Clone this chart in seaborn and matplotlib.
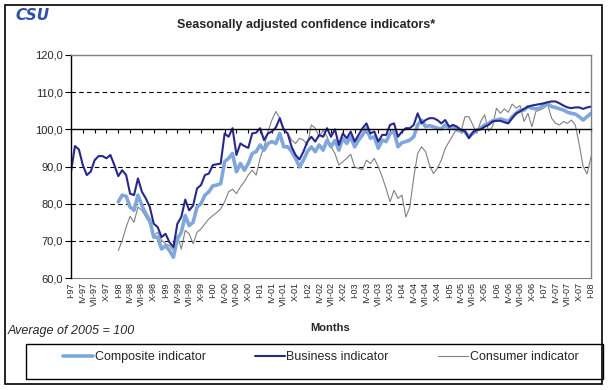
import pandas as pd
import numpy as np
import matplotlib
matplotlib.use("Agg")
import matplotlib.pyplot as plt
from matplotlib.patches import Rectangle
import seaborn as sns

# monthly values, I-97 .. I-08 (133 months)
business = [
    88.6, 95.5, 94.6, 90.4, 87.7, 88.6, 91.7, 92.8, 92.8, 92.2, 93.1, 90.4,
    87.4, 89.0, 87.7, 82.7, 82.3, 86.8, 83.2, 81.4, 79.1, 74.6, 73.7, 71.0,
    71.9, 69.6, 68.3, 74.6, 76.4, 81.1, 78.2, 79.5, 84.1, 85.0, 87.7, 88.1,
    90.4, 90.6, 90.8, 98.9, 98.0, 100.3, 93.1, 96.2, 95.5, 95.0, 98.9, 99.1,
    100.3, 97.1, 98.9, 99.4, 100.5, 103.0, 99.8, 98.9, 95.3, 93.1, 91.9, 94.0,
    96.7, 98.0, 96.7, 98.5, 98.0, 100.3, 98.0, 100.0, 95.8, 98.9, 97.6, 99.4,
    96.7, 98.5, 100.3, 101.6, 98.9, 99.4, 96.7, 98.5, 98.5, 101.2, 101.6, 98.0,
    99.4, 100.3, 100.3, 101.2, 104.3, 101.6, 102.5, 103.0, 103.0, 102.5, 101.6, 102.5,
    100.7, 101.2, 100.7, 99.8, 99.5, 97.6, 99.2, 99.8, 100.0, 100.7, 101.2, 102.1,
    102.3, 102.3, 101.9, 101.6, 103.0, 104.3, 104.8, 105.5, 106.1, 106.4, 106.6, 106.8,
    107.0, 107.3, 107.5, 107.5, 107.0, 106.4, 105.9, 105.7, 105.9, 105.9, 105.5, 105.9,
    106.1,
]

composite = [np.nan] * 12 + [
    80.5, 82.3, 82.0, 79.1, 78.2, 82.3, 79.5, 77.3, 75.5, 71.0, 71.0, 67.8,
    68.7, 67.4, 65.6, 70.5, 72.3, 76.8, 74.1, 75.0, 79.1, 80.0, 82.3, 83.2,
    84.8, 85.0, 85.4, 91.3, 92.2, 93.5, 88.6, 90.8, 89.0, 90.8, 93.5, 94.0,
    95.8, 94.4, 96.2, 96.7, 96.2, 98.9, 95.3, 95.3, 94.0, 92.2, 89.9, 91.7,
    94.0, 95.3, 94.0, 95.8, 94.4, 97.1, 95.3, 97.0, 94.4, 97.6, 96.2, 98.0,
    95.3, 97.1, 98.5, 100.3, 97.6, 98.0, 94.9, 97.1, 96.7, 98.9, 99.4, 95.3,
    96.4, 96.7, 97.1, 98.0, 101.2, 102.5, 100.7, 101.0, 100.7, 100.3, 100.1, 101.2,
    100.3, 100.7, 99.8, 99.5, 99.4, 98.0, 98.9, 99.8, 100.3, 101.2, 101.6, 102.3,
    102.5, 102.8, 102.5, 102.1, 103.4, 104.3, 105.2, 105.2, 106.1, 105.7, 105.5, 105.7,
    106.6, 107.0, 106.1, 105.9, 105.5, 105.2, 104.6, 104.3, 104.1, 103.4, 102.5, 103.4,
    104.3,
]

consumer = [np.nan] * 12 + [
    67.4, 70.1, 73.7, 76.6, 75.0, 79.1, 78.2, 76.4, 74.6, 71.4, 72.3, 70.1,
    69.2, 68.7, 67.4, 71.4, 67.8, 72.8, 71.9, 69.2, 72.3, 73.2, 74.6, 75.9,
    76.8, 77.6, 78.6, 80.5, 83.2, 83.9, 82.7, 84.5, 85.9, 87.7, 89.0, 87.7,
    92.2, 95.3, 99.4, 102.5, 104.8, 103.0, 100.3, 98.9, 97.1, 96.2, 97.6, 97.1,
    95.8, 101.2, 100.3, 98.0, 99.8, 98.0, 95.3, 93.5, 90.4, 91.3, 92.2, 93.3,
    89.9, 89.5, 89.2, 91.7, 90.8, 92.2, 89.9, 87.2, 84.0, 80.5, 83.6, 81.4,
    82.3, 76.4, 79.1, 87.0, 93.5, 95.3, 94.0, 90.4, 88.1, 89.5, 91.7, 94.9,
    96.7, 98.5, 100.3, 99.4, 103.4, 103.4, 101.2, 98.9, 102.1, 103.9, 99.5, 100.7,
    105.7, 104.3, 105.5, 104.6, 106.8, 105.7, 106.4, 102.1, 104.3, 100.7, 104.8, 105.2,
    105.7, 106.6, 103.0, 101.6, 101.2, 102.1, 101.6, 102.5, 101.2, 96.0, 90.0, 88.0,
    92.6,
]

roman = ["I", "IV", "VII", "X"]
years = list(range(1997, 2009))
tick_labels = [f"{r}-{y % 100:02d}" for y in years for r in roman][:45]
y_ticks = [60, 70, 80, 90, 100, 110, 120]

months = np.arange(len(business))
df = pd.DataFrame({"month": months, "Composite indicator": composite,
                   "Business indicator": business, "Consumer indicator": consumer})

sns.set_style("white")
plt.rcParams["font.family"] = ["Liberation Sans", "DejaVu Sans"]

fig = plt.figure(figsize=(6.09, 3.90), dpi=100)
ax = fig.add_axes([71 / 609, 1 - 278 / 390, 520 / 609, 223 / 390])

sns.lineplot(data=df, x="month", y="Consumer indicator", ax=ax, color="#808080",
             linewidth=0.8, label="Consumer indicator", legend=False)
sns.lineplot(data=df, x="month", y="Composite indicator", ax=ax, color="#7fa7dc",
             linewidth=2.6, label="Composite indicator", legend=False)
sns.lineplot(data=df, x="month", y="Business indicator", ax=ax, color="#28288c",
             linewidth=1.5, label="Business indicator", legend=False)

ax.set_xlim(0, len(business) - 1)
ax.set_ylim(60, 120)
ax.set_xlabel("")
ax.set_ylabel("")

# y axis
ax.set_yticks(y_ticks)
ax.set_yticklabels([f"{v:.1f}".replace(".", ",") for v in y_ticks], fontsize=8)
ax.tick_params(axis="y", direction="out", length=4, width=0.8, color="black", pad=2, left=True)
ax.yaxis.grid(True, linestyle=(0, (4, 3)), color="black", linewidth=0.8)
for i, gl in enumerate(ax.get_ygridlines()):
    if y_ticks[i] in (60, 100, 120):
        gl.set_visible(False)

# category axis crosses at 100
tick_pos = np.arange(0, len(business), 3)
ax.spines["bottom"].set_position(("data", 100))
ax.spines["bottom"].set_color("black")
ax.spines["bottom"].set_linewidth(1.0)
ax.set_xticks(tick_pos)
ax.tick_params(axis="x", direction="out", length=3, width=0.8, color="black",
               labelbottom=False, bottom=True)
ax.spines["left"].set_color("black")
ax.spines["left"].set_linewidth(1.0)
for s in ("top", "right"):
    ax.spines[s].set_color("#808080")
    ax.spines[s].set_linewidth(1.0)

sec = ax.secondary_xaxis("bottom")
sec.set_xticks(tick_pos, tick_labels, rotation=90, fontsize=6.5)
sec.tick_params(length=0, pad=3)
sec.spines["bottom"].set_color("#808080")

# texts
fig.text(0.503, 1 - 25 / 390, "Seasonally adjusted confidence indicators*",
         ha="center", va="center", fontsize=9, fontweight="bold")
fig.text(15 / 609, 1 - 15 / 390, "CSU", ha="left", va="center", fontsize=11,
         fontweight="bold", style="italic", color="#2d50a6", family="DejaVu Sans")
fig.text(330 / 609, 1 - 328 / 390, "Months", ha="center", va="center",
         fontsize=8, fontweight="bold")
fig.text(8 / 609, 1 - 331 / 390, "Average of 2005 = 100", ha="left", va="center",
         fontsize=9, style="italic")

# legend box + entries
fig.patches.append(Rectangle((26 / 609, 1 - 379 / 390), 577 / 609, 35 / 390,
                             transform=fig.transFigure, fill=False, ec="black", lw=1.0))
handles, labels = ax.get_legend_handles_labels()
order = [labels.index(n) for n in ("Composite indicator", "Business indicator", "Consumer indicator")]
leg = fig.legend([handles[i] for i in order], [labels[i] for i in order],
                 loc="center left", bbox_to_anchor=(63 / 609, 1 - 357 / 390),
                 ncol=3, fontsize=9, frameon=False, handlelength=2.4,
                 handletextpad=0.15, columnspacing=3.9, borderpad=0, borderaxespad=0)

# outer border
fig.patches.append(Rectangle((5 / 609, 1 - 384 / 390), 597 / 609, 379 / 390,
                             transform=fig.transFigure, fill=False, ec="black", lw=1.2))

fig.savefig("out.png", dpi=100)
